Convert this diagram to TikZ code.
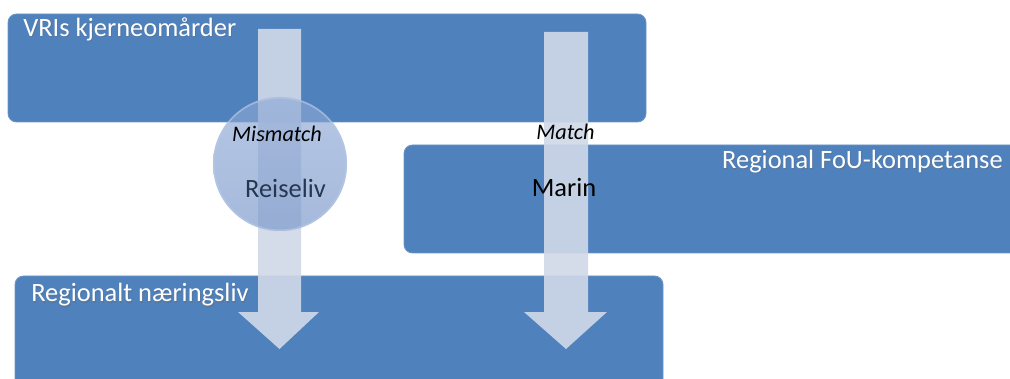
\documentclass[tikz,border=0pt]{standalone}
\usepackage{fontspec}
\setmainfont{Carlito}
\definecolor{boxblue}{HTML}{4F81BD}
\definecolor{boxedge}{HTML}{6E95C8}
\definecolor{arrowfill}{HTML}{D0D8E8}
\definecolor{circtop}{HTML}{8EA9D6}
\definecolor{circbot}{HTML}{7593C8}
\definecolor{circedge}{HTML}{B8C9E6}
\definecolor{reisetext}{HTML}{263850}
\tikzset{
  bigbox/.style={fill=boxblue, draw=boxedge, line width=0.6pt, rounded corners=6pt, inner sep=0},
  flowarrow/.style={fill=arrowfill, fill opacity=0.91, draw=none},
  boxlabel/.style={text=white, inner sep=0, font=\fontsize{18.8}{20}\selectfont},
  shadowlabel/.style={boxlabel, text=black!60, text opacity=0.35},
  smalllabel/.style={inner sep=0, font=\fontsize{15.8}{17}\selectfont\itshape},
  midlabel/.style={inner sep=0, font=\fontsize{18.8}{20}\selectfont}
}
\begin{document}
\begin{tikzpicture}[x=0.025cm,y=-0.025cm]
\useasboundingbox (0,0) rectangle (1010,379);
\clip (0,0) rectangle (1010,379);
% boxes
\path[bigbox] (8,14) rectangle (646,122) coordinate (topbr);
\path[bigbox] (404,145) rectangle (1030,253) coordinate (foubr);
\path[bigbox] (15,276) rectangle (663,400) coordinate (botbr);
% arrows
\path[flowarrow] (258,29) coordinate (a1) -- (301,29) -- (301,312) -- (319,312) -- (279.5,349) coordinate (a1tip) -- (238,312) -- (258,312) -- cycle;
\path[flowarrow] (544,32) coordinate (a2) -- (588,32) -- (588,312) -- (607,312) -- (566,349) coordinate (a2tip) -- (524,312) -- (544,312) -- cycle;
% circle
\shade[top color=circtop, bottom color=circbot, fill opacity=0.65] (280,164) coordinate (circ) circle [radius=67];
\draw[circedge, draw opacity=0.6, line width=1.2pt] (circ) circle [radius=66.3];
% labels
\node[shadowlabel, anchor=base west] at (24,38) {VRIs kjerneomårder};
\node[boxlabel, anchor=base west] (l1) at (23,37) {VRIs kjerneomårder};
\node[shadowlabel, anchor=base east] at (1004,170) {Regional FoU-kompetanse};
\node[boxlabel, anchor=base east] (l2) at (1003,169) {Regional FoU-kompetanse};
\node[shadowlabel, anchor=base west] at (32,303) {Regionalt næringsliv};
\node[boxlabel, anchor=base west] (l3) at (31,302) {Regionalt næringsliv};
\node[smalllabel, anchor=base] (mis) at (277,142) {Mismatch};
\node[smalllabel, anchor=base] (mat) at (565.5,140) {Match};
\node[midlabel, anchor=base, text=reisetext] (rei) at (285.5,198) {Reiseliv};
\node[midlabel, anchor=base] (mar) at (564,197) {Marin};
\end{tikzpicture}
\end{document}
